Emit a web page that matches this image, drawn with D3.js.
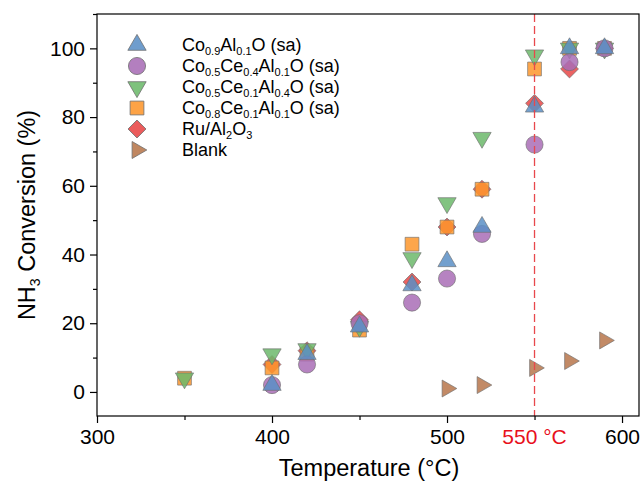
<!DOCTYPE html>
<html>
<head>
<meta charset="utf-8">
<script src="https://cdn.jsdelivr.net/npm/d3@7"></script>
<style>
  body { margin: 0; background: #fff; }
  text { font-family: Arial, "Liberation Sans", sans-serif; }
</style>
</head>
<body>
<div id="chart"></div>
<script>
// data
const temps = [350, 400, 420, 450, 480, 500, 520, 550, 570, 590];
const coAl = [null, 2, 11, 19, 31, 38, 48, 83, 100, 100];
const coCe4Al = [null, 2, 8, 20, 26, 33, 46, 72, 96, 100];
const coCe1Al4 = [4, 11, 12.5, 19, 39, 55, 74, 98, 100, 100];
const coCe1Al1 = [4, 7, 11, 18, 43, 48, 59, 94, 100, 100];
const ruAl = [null, 8, 12, 21, 32, 48, 59, 84, 94, 100];
const blankTemps = [500, 520, 550, 570, 590];
const blankVals = [1, 2, 7, 9, 15];

const xMajor = [300, 400, 500, 600];
const xMinor = [350, 450, 550];
const yMajor = [0, 20, 40, 60, 80, 100];
const yMinor = [10, 30, 50, 70, 90, 110];
const markTemp = 550;

const series = [
  { name: "Co_{0.9}Al_{0.1}O (sa)", color: "#5b8fc6", shape: "up", vals: coAl, z: 5 },
  { name: "Co_{0.5}Ce_{0.4}Al_{0.1}O (sa)", color: "#a96db6", shape: "circle", vals: coCe4Al, z: 4 },
  { name: "Co_{0.5}Ce_{0.1}Al_{0.4}O (sa)", color: "#6cb96b", shape: "down", vals: coCe1Al4, z: 3 },
  { name: "Co_{0.8}Ce_{0.1}Al_{0.1}O (sa)", color: "#fd962c", shape: "square", vals: coCe1Al1, z: 2 },
  { name: "Ru/Al_{2}O_{3}", color: "#e84646", shape: "diamond", vals: ruAl, z: 1 },
  { name: "Blank", color: "#b7764b", shape: "right", vals: null, z: 0 }
];

const width = 641, height = 482;
const mLeft = 97, mRight = 639, mTop = 14, mBottom = 416;

const svg = d3.select("#chart").append("svg")
  .attr("width", width).attr("height", height);

const x = d3.scaleLinear().domain([300, 609.7]).range([mLeft, mRight]);
const y = d3.scaleLinear().domain([-7, 110]).range([mBottom, mTop]);

// marker path + rotation per shape
function symbolFor(shape) {
  if (shape === "circle") return { p: d3.symbol(d3.symbolCircle, 230)(), r: 0 };
  if (shape === "square") return { p: d3.symbol(d3.symbolSquare, 190)(), r: 0 };
  if (shape === "diamond") return { p: d3.symbol(d3.symbolSquare, 160)(), r: 45 };
  if (shape === "up") return { p: d3.symbol(d3.symbolTriangle, 145)(), r: 0 };
  if (shape === "down") return { p: d3.symbol(d3.symbolTriangle, 145)(), r: 180 };
  return { p: d3.symbol(d3.symbolTriangle, 125)(), r: 90 };
}

// points (drawn bottom to top by z)
const g = svg.append("g");
series.slice().sort((a, b) => a.z - b.z).forEach(s => {
  const sym = symbolFor(s.shape);
  let pts;
  if (s.vals) pts = temps.map((t, i) => [t, s.vals[i]]).filter(d => d[1] != null);
  else pts = blankTemps.map((t, i) => [t, blankVals[i]]);
  g.selectAll(null).data(pts).enter().append("path")
    .attr("d", sym.p)
    .attr("transform", d => `translate(${x(d[0])},${y(d[1])}) rotate(${sym.r})`)
    .attr("fill", s.color).attr("fill-opacity", 0.85)
    .attr("stroke", "#6e6e6e").attr("stroke-width", 0.8).attr("stroke-opacity", 0.8);
});

// dashed 550 line
svg.append("line")
  .attr("x1", x(markTemp)).attr("x2", x(markTemp))
  .attr("y1", mTop).attr("y2", mBottom)
  .attr("stroke", "#e8484c").attr("stroke-width", 1.3)
  .attr("stroke-dasharray", "8,4");

// frame
svg.append("rect")
  .attr("x", mLeft).attr("y", mTop)
  .attr("width", mRight - mLeft).attr("height", mBottom - mTop)
  .attr("fill", "none").attr("stroke", "#000").attr("stroke-width", 1.2);

// x axis
svg.append("g").attr("transform", `translate(0,${mBottom})`)
  .call(d3.axisBottom(x).tickValues(xMinor).tickSize(4).tickFormat(""))
  .call(a => a.select(".domain").remove());
const xa = svg.append("g").attr("transform", `translate(0,${mBottom})`)
  .call(d3.axisBottom(x).tickValues(xMajor).tickSize(7).tickPadding(6).tickFormat(d3.format("d")));
xa.select(".domain").remove();
xa.selectAll("text").attr("font-size", 21).attr("fill", "#000")
  .attr("font-family", "Arial, 'Liberation Sans', sans-serif");

svg.append("text")
  .attr("x", x(markTemp)).attr("y", 444)
  .attr("text-anchor", "middle").attr("font-size", 21).attr("fill", "#e8101c")
  .text(markTemp + " °C");

// y axis
svg.append("g").attr("transform", `translate(${mLeft},0)`)
  .call(d3.axisLeft(y).tickValues(yMinor).tickSize(4).tickFormat(""))
  .call(a => a.select(".domain").remove());
const ya = svg.append("g").attr("transform", `translate(${mLeft},0)`)
  .call(d3.axisLeft(y).tickValues(yMajor).tickSize(7).tickPadding(5).tickFormat(d3.format("d")));
ya.select(".domain").remove();
ya.selectAll("text").attr("font-size", 21).attr("fill", "#000")
  .attr("font-family", "Arial, 'Liberation Sans', sans-serif");
svg.selectAll(".tick line").attr("stroke-width", 1.2);

// axis titles
svg.append("text")
  .attr("x", 369).attr("y", 476)
  .attr("text-anchor", "middle").attr("font-size", 23.5)
  .text("Temperature (°C)");

const yt = svg.append("text")
  .attr("transform", `translate(35,${(mTop + mBottom) / 2}) rotate(-90)`)
  .attr("text-anchor", "middle").attr("font-size", 23.5);
yt.append("tspan").text("NH");
yt.append("tspan").attr("font-size", 14).attr("dy", 5).text("3");
yt.append("tspan").attr("dy", -5).text(" Conversion (%)");

// text with _{sub} parts
function richText(sel, str, size) {
  const parts = str.split(/(_\{[^}]*\})/).filter(p => p.length);
  let sub = false;
  parts.forEach(p => {
    if (p.startsWith("_{")) {
      sel.append("tspan").attr("font-size", size * 0.61).attr("dy", sub ? 0 : 4).text(p.slice(2, -1));
      sub = true;
    } else {
      sel.append("tspan").attr("dy", sub ? -4 : 0).text(p);
      sub = false;
    }
  });
}

// legend
const legend = svg.append("g");
series.forEach((s, i) => {
  const ly = 45 + i * 21;
  const sym = symbolFor(s.shape);
  legend.append("path")
    .attr("d", sym.p)
    .attr("transform", `translate(137,${ly}) rotate(${sym.r})`)
    .attr("fill", s.color).attr("fill-opacity", 0.88)
    .attr("stroke", "#6e6e6e").attr("stroke-width", 0.8);
  const t = legend.append("text").attr("x", 182).attr("y", ly + 6).attr("font-size", 18);
  richText(t, s.name, 18);
});
</script>
</body>
</html>
